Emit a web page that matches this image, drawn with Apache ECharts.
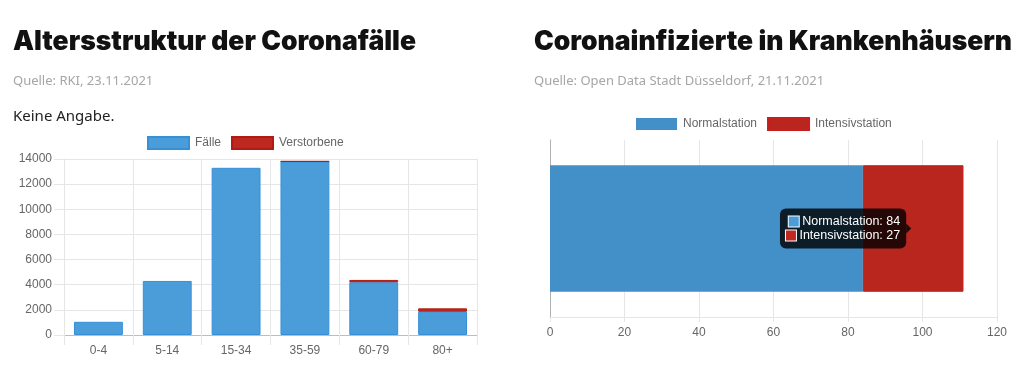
<!DOCTYPE html>
<html>
<head>
<meta charset="utf-8">
<script src="https://cdn.jsdelivr.net/npm/echarts@6/dist/echarts.min.js"></script>
<style>
html,body{margin:0;padding:0;background:#fff;}
#c{width:1024px;height:370px;}
</style>
</head>
<body>
<div id="c"></div>
<script>
// ---- data ----
const ageGroups = ['0-4', '5-14', '15-34', '35-59', '60-79', '80+'];
const faelle = [1050, 4300, 13300, 13800, 4200, 1850];
const verstorbene = [0, 0, 0, 20, 180, 270];
const hospitalCategory = [''];
const normalstation = [84];
const intensivstation = [27];
const leftYTicks = { min: 0, max: 14000, interval: 2000 };
const rightXTicks = { min: 0, max: 120, interval: 20 };

const FONT = '"Liberation Sans", Arial, Helvetica, sans-serif';
const TITLE_FONT = 'Inter, "Liberation Sans", sans-serif';
const SUB_FONT = '"Noto Sans", sans-serif';
const BLUE = '#4b9dda';
const BLUE_BORDER = '#3590d8';
const BLUE_HOVER = '#4390c9';
const RED = '#bd2820';
const RED_BORDER = '#b01c14';
const GRID = '#e6e6e6';
const TICK = '#666';

const chart = echarts.init(document.getElementById('c'), null, { renderer: 'canvas' });

const titleStyle = { fontSize: 26.5, fontWeight: 900, color: '#111', fontFamily: TITLE_FONT, lineHeight: 26 };
const subStyle = { fontSize: 13, fontWeight: 'normal', color: '#a6a6a6', fontFamily: SUB_FONT, lineHeight: 13 };

// zero values are not drawn
const verstorbeneData = verstorbene.map(v => (v === 0 ? '-' : v));

const option = {
  animation: false,
  title: [
    { text: 'Altersstruktur der Coronafälle', left: 13, top: 29, padding: 0, textStyle: titleStyle },
    { text: 'Quelle: RKI, 23.11.2021', left: 13, top: 75, padding: 0, textStyle: subStyle },
    { text: 'Keine Angabe.', left: 13, top: 109, padding: 0, textStyle: { fontSize: 15, fontWeight: 'normal', color: '#222', fontFamily: SUB_FONT, lineHeight: 15 } },
    { text: 'Coronainfizierte in Krankenhäusern', left: 534, top: 29, padding: 0, textStyle: titleStyle },
    { text: 'Quelle: Open Data Stadt Düsseldorf, 21.11.2021', left: 534, top: 75, padding: 0, textStyle: subStyle }
  ],
  legend: [
    {
      data: ['Fälle', 'Verstorbene'], left: 147, top: 136, padding: 0,
      itemWidth: 41, itemHeight: 12, itemGap: 10, icon: 'rect',
      textStyle: { color: TICK, fontSize: 12, fontFamily: FONT, padding: [0, 0, 0, 1] }
    },
    {
      data: ['Normalstation', 'Intensivstation'], left: 636, top: 117, padding: 0,
      itemWidth: 41, itemHeight: 12, itemGap: 10, icon: 'rect',
      textStyle: { color: TICK, fontSize: 12, fontFamily: FONT, padding: [0, 0, 0, 1] }
    }
  ],
  grid: [
    { left: 64, right: 547, top: 159, bottom: 35 },
    { left: 550, right: 27, top: 140, bottom: 53 }
  ],
  xAxis: [
    {
      gridIndex: 0, type: 'category', data: ageGroups,
      axisLine: { lineStyle: { color: '#bdbdbd' } },
      axisTick: { show: true, length: 10, lineStyle: { color: GRID } },
      splitLine: { show: true, lineStyle: { color: GRID } },
      axisLabel: { color: TICK, fontSize: 12, fontFamily: FONT, margin: 10 }
    },
    {
      gridIndex: 1, type: 'value', min: rightXTicks.min, max: rightXTicks.max, interval: rightXTicks.interval,
      axisLine: { show: true, lineStyle: { color: GRID } },
      axisTick: { show: true, length: 5, lineStyle: { color: GRID } },
      splitLine: { show: true, lineStyle: { color: GRID } },
      axisLabel: { color: TICK, fontSize: 12, fontFamily: FONT, margin: 10, formatter: v => String(v) }
    }
  ],
  yAxis: [
    {
      gridIndex: 0, type: 'value', min: leftYTicks.min, max: leftYTicks.max, interval: leftYTicks.interval,
      axisLine: { show: true, lineStyle: { color: GRID } },
      axisTick: { show: true, length: 10, lineStyle: { color: GRID } },
      splitLine: { show: true, lineStyle: { color: GRID } },
      axisLabel: { color: TICK, fontSize: 12, fontFamily: FONT, margin: 12, formatter: v => String(v) }
    },
    {
      gridIndex: 1, type: 'category', data: hospitalCategory,
      axisLine: { show: true, lineStyle: { color: '#b0b0b0' } },
      axisTick: { show: false },
      splitLine: { show: false },
      axisLabel: { show: false }
    }
  ],
  series: [
    {
      name: 'Fälle', type: 'bar', stack: 'alter', xAxisIndex: 0, yAxisIndex: 0,
      data: faelle, barCategoryGap: '29%',
      itemStyle: { color: BLUE, borderColor: BLUE_BORDER, borderWidth: 1 }
    },
    {
      name: 'Verstorbene', type: 'bar', stack: 'alter', xAxisIndex: 0, yAxisIndex: 0,
      data: verstorbeneData, barCategoryGap: '29%',
      itemStyle: { color: RED, borderColor: RED_BORDER, borderWidth: 1 }
    },
    {
      name: 'Normalstation', type: 'bar', stack: 'kh', xAxisIndex: 1, yAxisIndex: 1,
      data: normalstation, barCategoryGap: '28.5%',
      itemStyle: { color: BLUE_HOVER, borderWidth: 0 }
    },
    {
      name: 'Intensivstation', type: 'bar', stack: 'kh', xAxisIndex: 1, yAxisIndex: 1,
      data: intensivstation, barCategoryGap: '28.5%',
      itemStyle: { color: '#b8261e', borderColor: '#c81e1e', borderWidth: 1 }
    }
  ]
};
chart.setOption(option);

// Tooltip overlay (Chart.js style) positioned at the average of the bar ends
const endA = chart.convertToPixel({ xAxisIndex: 1, yAxisIndex: 1 }, [normalstation[0], 0]);
const endB = chart.convertToPixel({ xAxisIndex: 1, yAxisIndex: 1 }, [normalstation[0] + intensivstation[0], 0]);
const tipX = (endA[0] + endB[0]) / 2 - 2;
const tipY = endA[1];
const boxRight = tipX - 5;

chart.setOption({
  graphic: [
    {
      type: 'polygon', z: 100,
      shape: { points: [[tipX, tipY], [boxRight, tipY - 5], [boxRight, tipY + 5]] },
      style: { fill: 'rgba(0,0,0,0.8)' }
    },
    {
      type: 'text', z: 100, x: boxRight, y: tipY,
      style: {
        text: '{b1| }{t| Normalstation: ' + normalstation[0] + '}\n{b2| }{t| Intensivstation: ' + intensivstation[0] + '}',
        align: 'right', verticalAlign: 'middle',
        backgroundColor: 'rgba(0,0,0,0.8)', borderRadius: 6, padding: [6, 6, 6, 6],
        fill: '#fff', font: '12.5px ' + FONT,
        rich: {
          b1: { width: 10, height: 10, backgroundColor: BLUE, borderColor: '#fff', borderWidth: 1, lineHeight: 14 },
          b2: { width: 10, height: 10, backgroundColor: RED, borderColor: '#fff', borderWidth: 1, lineHeight: 14 },
          t: { fill: '#fff', fontSize: 12.5, fontFamily: FONT, lineHeight: 14 }
        }
      }
    }
  ]
});
</script>
</body>
</html>
